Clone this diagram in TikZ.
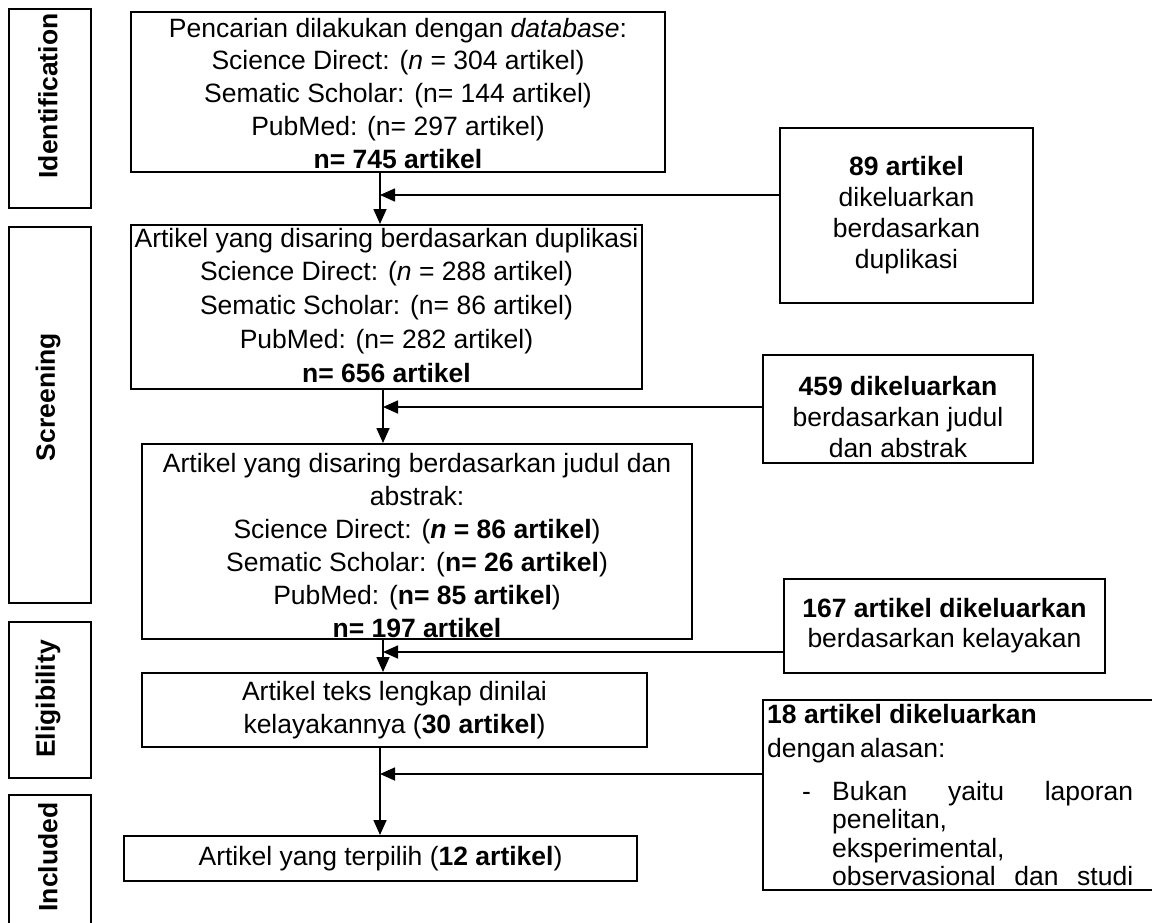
\documentclass[tikz,border=0pt]{standalone}
\usepackage{fontspec}
\setmainfont{Liberation Sans}
\usetikzlibrary{arrows.meta}
\newcommand\fsz{\fontsize{26.5}{33}\selectfont}
\tikzset{
  box/.style={draw, line width=2pt, inner sep=0pt, align=center, font=\fsz},
  stage/.style={draw, line width=2pt, inner sep=0pt, minimum width=82pt},
  stagetxt/.style={inner sep=0pt, rotate=90, font=\fsz\bfseries},
  txt/.style={inner sep=0pt, font=\fsz},
  conn/.style={line width=1.6pt},
  arr/.style={conn, -{Triangle[length=15pt,width=13pt]}},
}
\begin{document}
\begin{tikzpicture}[x=1pt,y=-1pt]
\useasboundingbox (0,0) rectangle (1152,922);
\clip (0,0) rectangle (1152,922);
\fill[white] (0,0) rectangle (1152,922);

% stage labels
\node[stage, minimum height=199pt] (sId) at (50,108.5) {};
\node[stagetxt] (sIdt) at (48,96) {Identification};
\node[stage, minimum height=376pt] (sSc) at (50,415) {};
\node[stagetxt] (sSct) at (48,397) {Screening};
\node[stage, minimum height=156pt] (sEl) at (50,700) {};
\node[stagetxt] (sElt) at (48,699) {Eligibility};
\node[stage, minimum height=145pt] (sIn) at (50,867.5) {};
\node[stagetxt] (sInt) at (48,857) {Included};

% main boxes
\node[box, minimum width=534pt, minimum height=160pt] (b1) at (398,92) {};
\node[txt, align=center, font=\fontsize{26.5}{32.75}\selectfont, anchor=base] (b1t) at (398,168)
  {Pencarian dilakukan dengan \textit{database}:\\
   Science Direct: (\textit{n} = 304 artikel)\\
   Sematic Scholar: (n= 144 artikel)\\
   PubMed: (n= 297 artikel)\\
   \textbf{n= 745 artikel}};
\node[box, minimum width=511pt, minimum height=164pt] (b2) at (386.5,307) {};
\node[txt, align=center, font=\fontsize{26.5}{33.75}\selectfont, anchor=base] (b2t) at (386.5,382)
  {Artikel yang disaring berdasarkan duplikasi\\
   Science Direct: (\textit{n} = 288 artikel)\\
   Sematic Scholar: (n= 86 artikel)\\
   PubMed: (n= 282 artikel)\\
   \textbf{n= 656 artikel}};
\node[box, minimum width=550pt, minimum height=195pt] (b3) at (417,541.5) {};
\node[txt, align=center, anchor=base] (b3t) at (417,637)
  {Artikel yang disaring berdasarkan judul dan\\
   abstrak:\\
   Science Direct: (\textbf{\textit{n} = 86 artikel})\\
   Sematic Scholar: (\textbf{n= 26 artikel})\\
   PubMed: (\textbf{n= 85 artikel})\\
   \textbf{n= 197 artikel}};
\node[box, minimum width=505pt, minimum height=74pt, font=\fontsize{26.5}{33.5}\selectfont] (b4) at (394.5,710)
  {Artikel teks lengkap dinilai\\
   kelayakannya (\textbf{30 artikel})};
\node[box, minimum width=513pt, minimum height=45pt] (b5) at (380.5,858.5)
  {Artikel yang terpilih (\textbf{12 artikel})};

% exclusion boxes
\node[box, minimum width=253pt, minimum height=175pt, font=\fontsize{26.5}{31}\selectfont] (e1) at (906.5,215.5)
  {\textbf{89 artikel}\\ dikeluarkan\\ berdasarkan\\ duplikasi};
\node[box, minimum width=270pt, minimum height=108pt] (e2) at (898,409) {};
\node[txt, align=center, font=\fontsize{26.5}{31}\selectfont, anchor=base] (e2t) at (898,457)
  {\textbf{459 dikeluarkan}\\ berdasarkan judul\\ dan abstrak};
\node[box, minimum width=321pt, minimum height=94pt, font=\fontsize{26.5}{30}\selectfont] (e3) at (944.5,626)
  {\textbf{167 artikel dikeluarkan}\\ berdasarkan kelayakan};
\node[box, minimum width=402pt, minimum height=190pt] (e4) at (964,795) {};
\node[txt, anchor=base west] (e4a) at (767,723) {\textbf{18 artikel dikeluarkan}};
\node[txt, anchor=base west] (e4b) at (767,757) {dengan\,alasan:};
\node[txt, anchor=base west] (e4c) at (802,800) {-};
\node[txt, anchor=base west] (e4d) at (832,800) {\makebox[301pt][s]{Bukan yaitu laporan}};
\node[txt, anchor=base west] (e4e) at (832,828.5) {penelitan,};
\node[txt, anchor=base west] (e4f) at (832,857) {eksperimental,};
\node[txt, anchor=base west] (e4g) at (832,885.5) {\makebox[301pt][s]{observasional dan studi}};

% junction coordinates
\coordinate (j1) at (380,195);
\coordinate (j2) at (383,407);
\coordinate (j3) at (383,652);
\coordinate (j4) at (380,774);

% connectors
\draw[arr] (b1.south -| j1) -- (b2.north -| j1);
\draw[arr] (e1.west |- j1) -- (j1);
\draw[arr] (b2.south -| j2) -- (b3.north -| j2);
\draw[arr] (e2.west |- j2) -- (j2);
\draw[arr] (b3.south -| j3) -- (b4.north -| j3);
\draw[arr] (e3.west |- j3) -- (j3);
\draw[arr] (b4.south -| j4) -- (b5.north -| j4);
\draw[arr] (e4.west |- j4) -- (j4);
\end{tikzpicture}
\end{document}
